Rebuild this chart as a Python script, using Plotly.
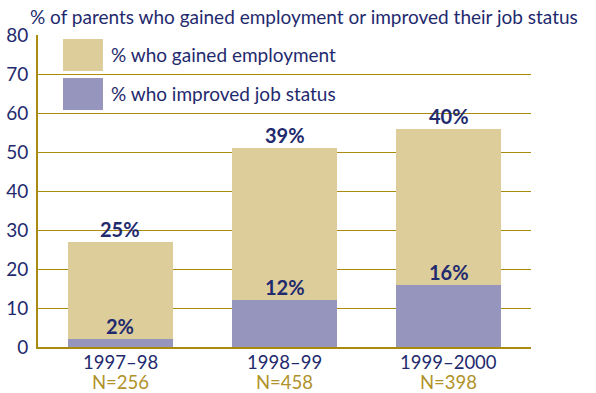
import plotly.graph_objects as go

categories = ["1997–98", "1998–99", "1999–2000"]
n_labels = ["N=256", "N=458", "N=398"]
improved = [2, 12, 16]
gained = [25, 39, 40]
series_names = ["% who gained employment", "% who improved job status"]
title_text = "% of parents who gained employment or improved their job status"

NAVY = "#1f2a6e"
GOLD = "#a98b0f"
NGOLD = "#b0922a"
TAN = "#dccd9b"
PURPLE = "#9695bd"
FONT = "Lato, 'Open Sans', sans-serif"
FS = 19

fig = go.Figure()
fig.add_trace(go.Bar(x=categories, y=improved, marker=dict(color=PURPLE, line=dict(width=0)),
                     name=series_names[1], hoverinfo="skip"))
fig.add_trace(go.Bar(x=categories, y=gained, marker=dict(color=TAN, line=dict(width=0)),
                     name=series_names[0], hoverinfo="skip"))

# value labels
for c, i, g in zip(categories, improved, gained):
    fig.add_annotation(x=c, y=i, text=f"<b>{i}%</b>", showarrow=False, yanchor="bottom",
                       yshift=-1, font=dict(size=20, color=NAVY, family=FONT))
    fig.add_annotation(x=c, y=i + g, text=f"<b>{g}%</b>", showarrow=False, yanchor="bottom",
                       yshift=-1, font=dict(size=20, color=NAVY, family=FONT))

# category + N labels under the axis
for c, n in zip(categories, n_labels):
    fig.add_annotation(x=c, y=0, yref="paper", text=c, showarrow=False, yanchor="middle",
                       yshift=-15, font=dict(size=18.5, color=NAVY, family=FONT))
    fig.add_annotation(x=c, y=0, yref="paper", text=n, showarrow=False, yanchor="middle",
                       yshift=-35, font=dict(size=18.5, color=NGOLD, family=FONT))

# legend swatches
sw = [(series_names[0], TAN, 0.987, 0.885), (series_names[1], PURPLE, 0.862, 0.760)]
for name, col, y1, y0 in sw:
    fig.add_shape(type="rect", xref="paper", yref="paper", x0=0.0507, x1=0.1318, y0=y0, y1=y1,
                  fillcolor=col, line=dict(width=0), layer="above")
    fig.add_annotation(xref="paper", yref="paper", x=0.144, y=(y0 + y1) / 2, text=name,
                       showarrow=False, xanchor="left", yanchor="middle",
                       font=dict(size=FS, color=NAVY, family=FONT))

fig.update_layout(
    width=596, height=393,
    margin=dict(l=38, r=65, t=35, b=46),
    barmode="stack", bargap=0.36,
    plot_bgcolor="white", paper_bgcolor="white",
    showlegend=False,
    font=dict(family=FONT, color=NAVY, size=FS),
    title=dict(text=title_text, x=30 / 596, xanchor="left", y=1 - 17 / 393, yanchor="middle",
               font=dict(size=FS, color=NAVY, family=FONT)),
    xaxis=dict(showticklabels=False, showline=True, linecolor=GOLD, linewidth=2, ticks="",
               automargin=False),
    yaxis=dict(range=[0, 80], dtick=10, showgrid=True, gridcolor=GOLD, gridwidth=1,
               showline=True, linecolor=GOLD, linewidth=2, ticks="", zeroline=False,
               tickfont=dict(size=FS, color=NAVY), ticklabelstandoff=4, automargin=False),
)

fig.write_html("out.html")
